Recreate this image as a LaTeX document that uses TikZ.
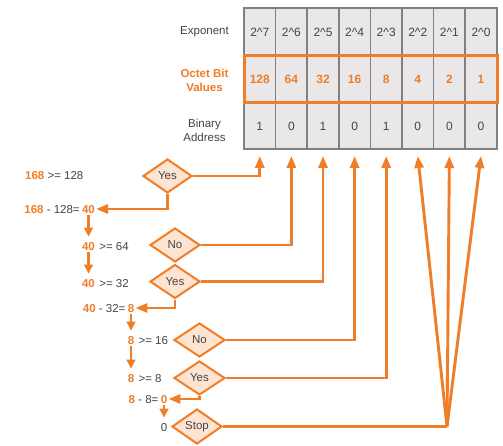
\documentclass[tikz,border=0pt]{standalone}
\usepackage{fontspec}
\setmainfont{Liberation Sans}
\usetikzlibrary{shapes.geometric,arrows.meta}
\definecolor{org}{RGB}{240,125,40}
\definecolor{dfill}{RGB}{253,229,210}
\definecolor{cellfill}{RGB}{233,231,232}
\definecolor{cellline}{RGB}{128,128,128}
\definecolor{txt}{RGB}{68,68,68}
\begin{document}
\begin{tikzpicture}[x=1pt,y=-1pt,
  font=\fontsize{11.5}{14}\selectfont,
  every node/.style={text=txt},
  dec/.style={diamond, draw=org, fill=dfill, line width=2pt, inner sep=0pt,
    minimum width=50pt, minimum height=34pt},
  conn/.style={draw=org, line width=2.9pt, -{Triangle[length=12pt,width=9pt]}},
  plainconn/.style={draw=org, line width=2.9pt},
  sarr/.style={draw=org, line width=2.4pt, -{Triangle[length=9pt,width=8.5pt]},
    shorten <=1pt, shorten >=4pt},
  lbl/.style={inner sep=1pt, text height=8.2pt, text depth=0pt},
  res/.style={lbl, text=org, font=\fontsize{11.5}{14}\selectfont\bfseries},
  colbox/.style={draw=cellline, fill=cellfill, line width=1.6pt, inner sep=0pt,
    minimum width=31.6pt, minimum height=141pt},
  cell/.style={inner sep=0pt, font=\fontsize{12}{14}\selectfont},
  vcell/.style={cell, text=org, font=\fontsize{12}{14}\selectfont\bfseries}
]
\useasboundingbox (0,0) rectangle (503,446);
\fill[white] (0,0) rectangle (503,446);

% table
\foreach \i/\ex/\va/\bi in {1/7/128/1,2/6/64/0,3/5/32/1,4/4/16/0,5/3/8/1,6/2/4/0,7/1/2/0,8/0/1/0}{
  \node[colbox] (col\i) at ({244+31.6*(\i-0.5)},78.5) {};
  \node[cell] (ex\i) at ({244+31.6*(\i-0.5)},32) {2\textasciicircum\ex};
  \node[vcell] (va\i) at ({244+31.6*(\i-0.5)},79.5) {\va};
  \node[cell] (bi\i) at ({244+31.6*(\i-0.5)},126) {\bi};
  \coordinate (t\i) at ({244+31.6*(\i-0.5)},156);
}
\node[draw=org, line width=3pt, inner sep=0pt, minimum width=253pt, minimum height=47pt] (box) at (370.5,79.5) {};

\node[align=center] (lexp) at (204.5,32) {Exponent};
\node[align=center, text=org, font=\fontsize{11.5}{14}\selectfont\bfseries] (loct) at (204.5,80) {Octet Bit\\Values};
\node[align=center] (lbin) at (204.5,130) {Binary\\Address};

% diamonds
\node[dec, minimum width=49pt] (d1) at (167.5,176) {Yes};
\node[dec] (d2) at (175,245) {No};
\node[dec] (d3) at (175,281.5) {Yes};
\node[dec, minimum width=51pt] (d4) at (199.5,340) {No};
\node[dec, minimum width=51pt] (d5) at (199.5,378) {Yes};
\node[dec, minimum height=35pt] (d6) at (197,426.5) {Stop};

% left text
\node[lbl, anchor=west] (e1) at (24,175) {\textcolor{org}{\textbf{168}} >= 128};
\node[res] (r1) at (88.5,209) {40};
\node[lbl, anchor=east] (e2) at (r1.west) {\textcolor{org}{\textbf{168}} - 128=};
\node[res] (q1) at (88.5,246) {40};
\node[lbl, anchor=west] (e3) at ([xshift=2pt]q1.east) {>= 64};
\node[res] (q2) at (88.5,283) {40};
\node[lbl, anchor=west] (e4) at ([xshift=2pt]q2.east) {>= 32};
\node[res] (r2) at (131,308) {8};
\node[lbl, anchor=east] (e5) at (r2.west) {\textcolor{org}{\textbf{40}} - 32=};
\node[res] (q3) at (131,340) {8};
\node[lbl, anchor=west] (e6) at ([xshift=2pt]q3.east) {>= 16};
\node[res] (q4) at (131,378) {8};
\node[lbl, anchor=west] (e7) at ([xshift=2pt]q4.east) {>= 8};
\node[res] (r3) at (164,399) {0};
\node[lbl, anchor=east] (e8) at (r3.west) {\textcolor{org}{\textbf{8}} - 8=};
\node[lbl] (f) at (164,427) {0};

% small arrows
\draw[sarr] (r1) -- (q1);
\draw[sarr] (q1) -- (q2);
\draw[sarr] (r2) -- (q3);
\draw[sarr] (q3) -- (q4);
\draw[sarr] (r3) -- (f);

% diamond to results
\draw[conn] (d1.south) |- (r1.east);
\draw[conn] (d3.south) |- (r2.east);
\draw[conn] (d5.south) |- (r3.east);

% diamonds to table
\draw[conn] (d1.east) -| (t1);
\draw[conn] (d2.east) -| (t2);
\draw[conn] (d3.east) -| (t3);
\draw[conn] (d4.east) -| (t4);
\draw[conn] (d5.east) -| (t5);
\coordinate (m) at (447,426.5);
\draw[plainconn] (d6.east) -- (m);
\draw[conn] (m) -- (t6);
\draw[conn] (m) -- (t7);
\draw[conn] (m) -- (t8);
\end{tikzpicture}
\end{document}
